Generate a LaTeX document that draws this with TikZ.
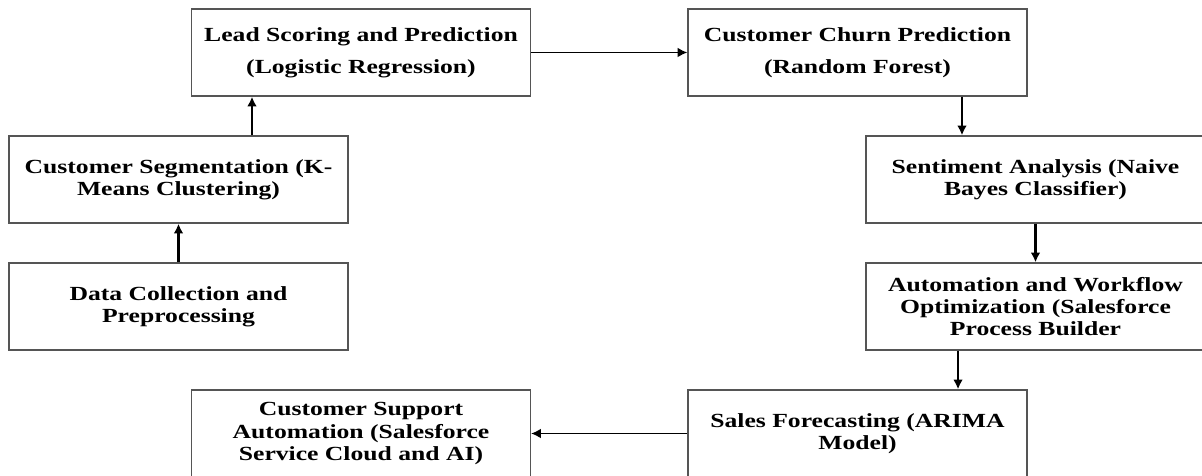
\documentclass[tikz,border=0pt]{standalone}
\usepackage{fontspec}
\setmainfont{Liberation Serif}
\newfontfamily\stagefont{Liberation Serif}[FakeStretch=1.28]
\usepackage{tikz}
\usetikzlibrary{arrows.meta, positioning}
\definecolor{boxgray}{RGB}{85, 85, 85}

\begin{document}
\begin{tikzpicture}[
    x=0.02cm, y=-0.02cm,
    stage/.style={rectangle, draw=boxgray, line width=0.8pt, minimum width=6.78cm, minimum height=1.74cm, align=center, inner sep=2pt, font=\stagefont\bfseries\fontsize{11.4}{12.75}\selectfont},
    wide/.style={font=\stagefont\bfseries\fontsize{11.4}{18.1}\selectfont},
    arrow/.style={-{Latex[length=5.5pt, width=5.5pt]}, line width=1.3pt},
    flat/.style={line width=0.9pt}
]
    \clip (0,0) rectangle (1202,476);

    % Left column
    \node[stage] (data) at (178.5, 306.5) {Data Collection and\\Preprocessing};
    \node[stage] (seg) at (178.5, 179.5) {Customer Segmentation (K-\\Means Clustering)};
    \node[stage, wide] (lead) at (361, 52.5) {Lead Scoring and Prediction\\(Logistic Regression)};

    % Right column
    \node[stage, wide] (churn) at (857.5, 52.5) {Customer Churn Prediction\\(Random Forest)};
    \node[stage] (senti) at (1035.5, 179.5) {Sentiment Analysis (Naive\\Bayes Classifier)};
    \node[stage] (auto) at (1035.5, 306.5) {Automation and Workflow\\Optimization (Salesforce\\Process Builder};

    % Bottom row
    \node[stage] (sales) at (857.5, 433.5) {Sales Forecasting (ARIMA\\Model)};
    \node[stage] (support) at (361, 433.5) {Customer Support\\Automation (Salesforce\\Service Cloud and AI)};

    % Flow
    \draw[arrow] (data) -- (seg);
    \draw[arrow] ([xshift=1.47cm]seg.north) -- ([xshift=1.47cm]seg.north |- lead.south);
    \draw[arrow, flat] (lead) -- (churn);
    \draw[arrow] ([xshift=2.09cm]churn.south) -- ([xshift=2.09cm]churn.south |- senti.north);
    \draw[arrow] (senti) -- (auto);
    \draw[arrow] ([xshift=-1.55cm]auto.south) -- ([xshift=-1.55cm]auto.south |- sales.north);
    \draw[arrow, flat] (sales) -- (support);

\end{tikzpicture}
\end{document}
